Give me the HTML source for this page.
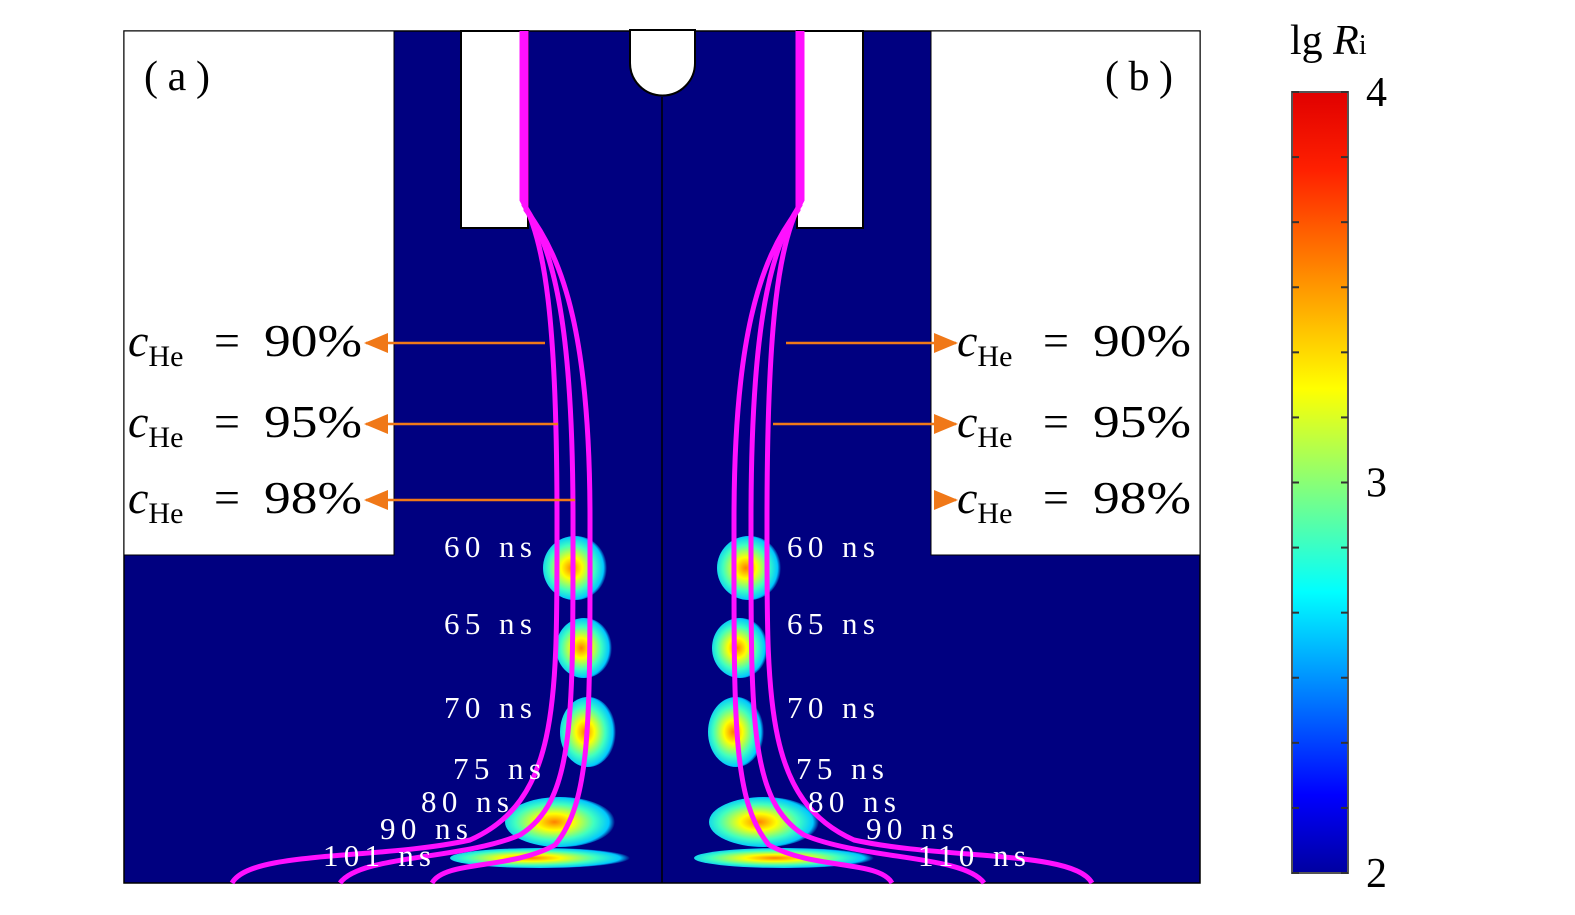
<!DOCTYPE html>
<html><head><meta charset="utf-8"><style>
body{margin:0;background:#fff;}
svg{display:block;font-family:"Liberation Serif",serif;}
</style></head><body>
<svg width="1575" height="915" viewBox="0 0 1575 915">
<defs>
<linearGradient id="jet" x1="0" y1="1" x2="0" y2="0">
<stop offset="0" stop-color="#0000a0"/><stop offset="0.1" stop-color="#0000ff"/>
<stop offset="0.36" stop-color="#00ffff"/><stop offset="0.62" stop-color="#ffff00"/>
<stop offset="0.9" stop-color="#ff2000"/><stop offset="1" stop-color="#e00000"/>
</linearGradient>
<radialGradient id="blob" cx="0.45" cy="0.5" r="0.55">
<stop offset="0" stop-color="#ff8000"/><stop offset="0.3" stop-color="#ffff00"/>
<stop offset="0.65" stop-color="#40ffc0"/><stop offset="0.9" stop-color="#00c8ff"/>
<stop offset="1" stop-color="#00c8ff" stop-opacity="0"/>
</radialGradient>
<marker id="arrB" markerWidth="24" markerHeight="20" refX="22" refY="10" orient="auto" markerUnits="userSpaceOnUse">
<path d="M0,0 L24,10 L0,20 Z" fill="#f07818"/></marker>
</defs>
<rect x="124" y="31" width="1076" height="852" fill="#000080" stroke="#000" stroke-width="1.5"/>
<rect x="124" y="31" width="270" height="524" fill="#fff" stroke="#000"/>
<rect x="931" y="31" width="269" height="524" fill="#fff" stroke="#000"/>
<rect x="461" y="31" width="67" height="197" fill="#fff" stroke="#000" stroke-width="2"/>
<rect x="797" y="31" width="66" height="197" fill="#fff" stroke="#000" stroke-width="2"/>
<path d="M630,30 L630,63 A32.5,32.5 0 0 0 695,63 L695,30 Z" fill="#fff" stroke="#000" stroke-width="2"/>
<line x1="662" y1="97" x2="662" y2="883" stroke="#000" stroke-width="1.5"/>
<g id="blobs"></g>
<g id="curves"></g>
<g id="labels"></g>
<rect x="1292" y="92" width="56" height="781" fill="url(#jet)" stroke="#555" stroke-width="2"/>
<text x="1290" y="54" font-size="42">lg <tspan font-style="italic">R</tspan><tspan font-size="28">i</tspan></text>
<g id="cbticks"></g>
<text x="144" y="90" font-size="42" textLength="66">(a)</text>
<text x="1105" y="90" font-size="42" textLength="68">(b)</text>
</svg>
<script>
const cbTicks=[2,3,4];
const cbMin=2,cbMax=4;
const concLabels=["90","95","98"];
const concY=[343,424,500];
const timesA=["60 ns","65 ns","70 ns","75 ns","80 ns","90 ns","101 ns"];
const timesB=["60 ns","65 ns","70 ns","75 ns","80 ns","90 ns","110 ns"];
const NS="http://www.w3.org/2000/svg";
function mk(t,a,p){const e=document.createElementNS(NS,t);for(const k in a)e.setAttribute(k,a[k]);p.appendChild(e);return e;}
const cy=v=>873-(v-cbMin)/(cbMax-cbMin)*781;
const cb=document.getElementById('cbticks');
for(let v=cbMin;v<=cbMax+1e-9;v+=1/6){const y=cy(v);
 const l=mk('line',{x1:1292,x2:1299,y1:y,y2:y,stroke:'#333','stroke-width':2},cb);
 const r=mk('line',{x1:1341,x2:1348,y1:y,y2:y,stroke:'#333','stroke-width':2},cb);}
cbTicks.forEach(v=>{const t=mk('text',{x:1366,y:cy(v)+14,'font-size':42},cb);t.textContent=v;
 });
const cg=document.getElementById('curves');
const leftPaths=[
"M522,31 L522,200 C545,240 557,320 557,520 C557,700 560,800 470,840 C380,860 250,850 232,883",
"M524,31 L524,205 C555,250 573,330 573,520 C573,720 575,800 520,835 C460,860 360,855 340,883",
"M526,31 L526,210 C565,260 590,340 590,520 C590,720 592,800 555,845 C510,870 445,860 432,883"];
leftPaths.forEach(d=>{let p=mk('path',{d:d,fill:'none',stroke:'#ff10ff','stroke-width':5},cg);
 p=mk('path',{d:d,fill:'none',stroke:'#ff10ff','stroke-width':5,transform:'translate(1324,0) scale(-1,1)'},cg);});
const bg=document.getElementById('blobs');
const blobs=[[575,568,32,32],[584,648,28,30],[588,732,28,35],[560,822,55,25],[540,858,90,10]];
blobs.forEach(b=>{[0,1].forEach(s=>{const x=s?1324-b[0]:b[0];
 const e=mk('ellipse',{cx:x,cy:b[1],rx:b[2],ry:b[3],fill:'url(#blob)'},bg);});});
const lg=document.getElementById('labels');
function conc(x,y,c,name){
 let t=mk('text',{x:x,y:y+13,'font-size':46},lg);t.innerHTML='<tspan font-style="italic">c</tspan><tspan font-size="30" dy="10">He</tspan>';
 
 let u=mk('text',{x:x+86,y:y+13,'font-size':46},lg);u.textContent='=';
 let v=mk('text',{x:x+136,y:y+13,'font-size':46,textLength:98,lengthAdjust:'spacingAndGlyphs'},lg);v.textContent=c+'%';}
concLabels.forEach((c,i)=>{const y=concY[i];
 conc(128,y,c,'concentration-label-left');conc(957,y,c,'concentration-label-right');
 const xe=[545,558,575][i];
 let a=mk('line',{x1:xe,y1:y,x2:366,y2:y,stroke:'#f07818','stroke-width':2.5,'marker-end':'url(#arrB)'},lg);
 const xs=[786,773,940][i];
 a=mk('line',{x1:xs,y1:y,x2:956,y2:y,stroke:'#f07818','stroke-width':2.5,'marker-end':'url(#arrB)'},lg);});
const tY=[557,634,718,779,812,839,866];
const tXA=[444,444,444,453,421,380,323];
const tXB=[787,787,787,796,808,866,918];
const tW=s=>s.length>5?108:88;
timesA.forEach((s,i)=>{let t=mk('text',{x:tXA[i],y:tY[i],'font-size':31,fill:'#fff',textLength:tW(s),lengthAdjust:'spacing'},lg);t.textContent=s;});
timesB.forEach((s,i)=>{let t=mk('text',{x:tXB[i],y:tY[i],'font-size':31,fill:'#fff',textLength:tW(s),lengthAdjust:'spacing'},lg);t.textContent=s;});
</script>
</body></html>
